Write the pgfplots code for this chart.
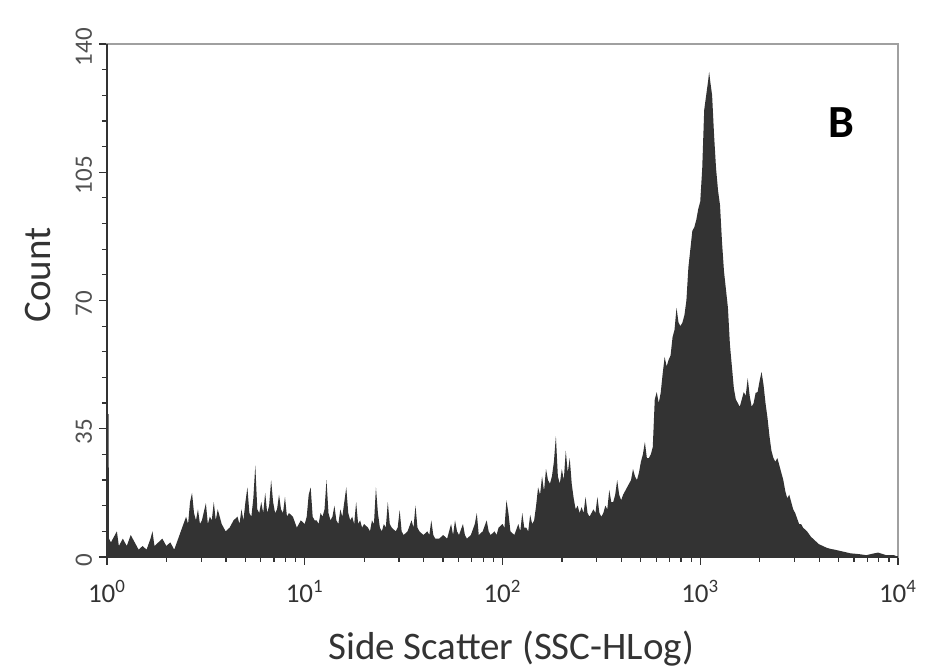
\documentclass[border=0pt]{standalone}
\usepackage{pgfplots}
\pgfplotsset{compat=1.18}
\usepackage{fontspec}
\setmainfont{Carlito}
\definecolor{histfill}{HTML}{333333}
\definecolor{framegray}{HTML}{A0A0A0}
\definecolor{ticklab}{HTML}{505050}
\begin{document}
\begin{tikzpicture}
\path[use as bounding box] (-53.5pt,-55.5pt) rectangle (409.5pt,278.5pt);
\begin{axis}[
  at={(0,0)}, anchor=south west,
  scale only axis, width=395.5pt, height=256.5pt,
  xmin=0, xmax=4, ymin=0, ymax=140,
  axis line style={draw=framegray, line width=0.8pt},
  xtick={0,1,2,3,4},
  xticklabels={10\textsuperscript{0},10\textsuperscript{1},10\textsuperscript{2},10\textsuperscript{3},10\textsuperscript{4}},
  minor xtick={0.301,0.477,0.602,0.699,0.778,0.845,0.903,0.954,
               1.301,1.477,1.602,1.699,1.778,1.845,1.903,1.954,
               2.301,2.477,2.602,2.699,2.778,2.845,2.903,2.954,
               3.301,3.477,3.602,3.699,3.778,3.845,3.903,3.954},
  ytick={0,35,70,105,140},
  minor y tick num=4,
  tick align=outside, xtick pos=bottom, ytick pos=left,
  major tick length=4pt, minor tick length=2.5pt,
  tick style={draw=histfill, line width=0.6pt},
  /pgf/number format/assume math mode=true,
  xticklabel style={font=\fontsize{13.5}{15}\selectfont, text=histfill, yshift=-4pt},
  yticklabel style={font=\fontsize{12.5}{14}\selectfont, text=ticklab, rotate=90, anchor=south, xshift=-1.5pt},
  clip=false,
]
\addplot[fill=histfill, draw=none] coordinates {
(0.000,0)(0.000,39)(0.008,39)(0.010,5)(0.02,4)(0.04,6)(0.05,7)(0.06,3)(0.08,5)(0.10,3)
(0.12,6)(0.14,4)(0.16,2)(0.18,3)(0.20,2)(0.22,5)(0.23,7)(0.24,3)(0.26,4)(0.28,5)
(0.30,3)(0.32,4)(0.34,2)(0.36,5)(0.38,8)(0.40,11)(0.41,9)(0.42,15)(0.43,17.5)(0.44,12)(0.45,10)(0.46,13)
(0.47,9)(0.48,10)(0.50,14.7)(0.51,9)(0.52,11)(0.53,10)(0.54,15)(0.55,10)(0.56,13)(0.58,9)(0.60,7)(0.62,8)(0.64,10)(0.66,11)(0.67,9)
(0.68,13)(0.69,10)(0.70,15)(0.71,19)(0.72,12)(0.73,11)(0.74,16)(0.75,25)(0.76,13)(0.77,12)(0.78,15)(0.79,12)(0.80,17.5)(0.81,12)(0.82,14)
(0.83,21)(0.84,15)(0.85,12)(0.86,13)(0.87,17)(0.88,13)(0.89,12)(0.90,16.4)(0.91,11)(0.92,12)(0.94,11)(0.96,8)(0.98,10)
(1.00,9)(1.01,11)(1.02,17)(1.03,19)(1.04,11)(1.05,10)(1.06,10)(1.07,9)(1.08,12)(1.09,11)(1.10,13)(1.11,21)(1.12,12)(1.13,10)(1.14,11)(1.15,14)(1.16,10)
(1.17,9)(1.18,13)(1.19,11)(1.20,15)(1.21,19)(1.22,12)(1.23,10)(1.24,11)(1.25,9)(1.26,15)(1.27,9)(1.28,10)(1.29,8)(1.30,9)(1.32,8)(1.33,7)(1.34,10)
(1.35,9)(1.36,19)(1.37,12)(1.38,8)(1.39,7)(1.40,9)(1.41,8)(1.42,15)(1.43,9)(1.44,8)(1.46,7)(1.47,8)(1.48,12.8)(1.49,7)(1.50,6)(1.52,7)
(1.54,10)(1.55,8)(1.56,14)(1.57,8)(1.58,7)(1.60,6)(1.62,7)(1.63,6)(1.64,10)(1.65,6)(1.66,5)(1.68,5)(1.70,6)(1.72,5)
(1.74,9)(1.75,6)(1.76,10)(1.77,7)(1.78,6)(1.80,9)(1.81,6)(1.82,5)(1.84,6)(1.86,9)(1.87,12)(1.88,6)(1.90,7)
(1.92,10)(1.93,7)(1.94,6)(1.96,7)(1.97,6)(1.98,8)(2.00,9)(2.01,8)(2.02,15.5)(2.03,12)(2.04,7)(2.06,6)(2.08,9)(2.09,7)
(2.10,12)(2.11,8)(2.12,8)(2.13,7)(2.14,11.5)(2.15,9)(2.16,10)(2.17,14)(2.18,19)(2.19,17)(2.20,22)(2.21,18)(2.22,24)(2.23,21)(2.24,20)(2.25,22)(2.26,26)(2.27,33)
(2.28,22)(2.29,20)(2.30,24)(2.31,21)(2.32,29)(2.33,23)(2.34,27)(2.35,20)(2.36,16)(2.37,13)(2.38,14)(2.39,12)(2.40,13.6)(2.41,12)(2.42,16.4)(2.43,12)(2.44,11)
(2.45,12)(2.46,13)(2.47,12)(2.48,16.4)(2.49,12)(2.50,11)(2.51,12)(2.52,14)(2.53,13)(2.54,18.3)(2.55,15)(2.56,15)(2.57,17)(2.58,21)(2.59,17)(2.60,15.5)(2.61,17)(2.62,18)(2.63,19)(2.64,20)
(2.65,21)(2.66,24)(2.67,22)(2.68,21)(2.69,23)(2.70,26)(2.71,28)(2.72,31.4)(2.73,27)(2.74,27)(2.75,28)(2.76,30)(2.77,43)(2.78,45)(2.79,42)(2.80,44.8)(2.81,50)
(2.82,54.6)(2.83,52)(2.84,53.8)(2.85,55)(2.86,60)(2.87,62)(2.88,68)(2.89,64)(2.90,63)(2.91,64)(2.92,66)(2.93,70)(2.94,79)(2.95,84)(2.96,89)(2.97,90)(2.98,92)
(2.99,95)(3.00,97)(3.01,106)(3.02,122)(3.03,126)(3.04,130)(3.045,132.4)(3.05,130)(3.06,126)(3.07,115)(3.08,106)
(3.09,100)(3.10,96)(3.11,86)(3.12,78)(3.13,73)(3.14,68)(3.15,58)(3.16,52)(3.17,46)(3.18,43)(3.19,42)(3.20,41)(3.21,43)(3.22,45)(3.23,44)(3.24,48.8)(3.25,44)(3.26,41)
(3.27,42)(3.28,44.8)(3.29,45)(3.30,48)(3.31,50.5)(3.32,47)(3.33,42)(3.34,38)(3.35,33)(3.36,29)(3.37,27)(3.38,26)(3.39,27)(3.40,25)(3.41,23)(3.42,21)(3.43,18)(3.44,16)
(3.45,17)(3.46,15)(3.47,13)(3.48,12)(3.49,10.5)(3.50,9)(3.51,9)(3.52,8)(3.54,7)(3.56,5.5)(3.58,4.5)(3.60,3.5)(3.62,3)(3.64,2.5)(3.66,2.2)(3.68,2)
(3.72,1.5)(3.76,1)(3.80,0.8)(3.84,0.5)(3.88,1)(3.90,1.2)(3.94,0.5)(3.98,0.5)(4.00,0)
} \closedcycle;
\draw[histfill, line width=1.2pt] (rel axis cs:0,1) -- (rel axis cs:0,0) -- (rel axis cs:1,0);
\node[font=\fontsize{23}{26}\selectfont\bfseries, text=black] at (rel axis cs:0.929,0.846) {B};
\node[font=\fontsize{19.5}{22}\selectfont, text=histfill, rotate=90] at ([xshift=-34.5pt]rel axis cs:0,0.55) {Count};
\node[font=\fontsize{19.5}{22}\selectfont, text=histfill, anchor=base] at ([yshift=-51.5pt]rel axis cs:0.511,0) {Side Scatter (SSC-HLog)};
\end{axis}
\end{tikzpicture}
\end{document}
